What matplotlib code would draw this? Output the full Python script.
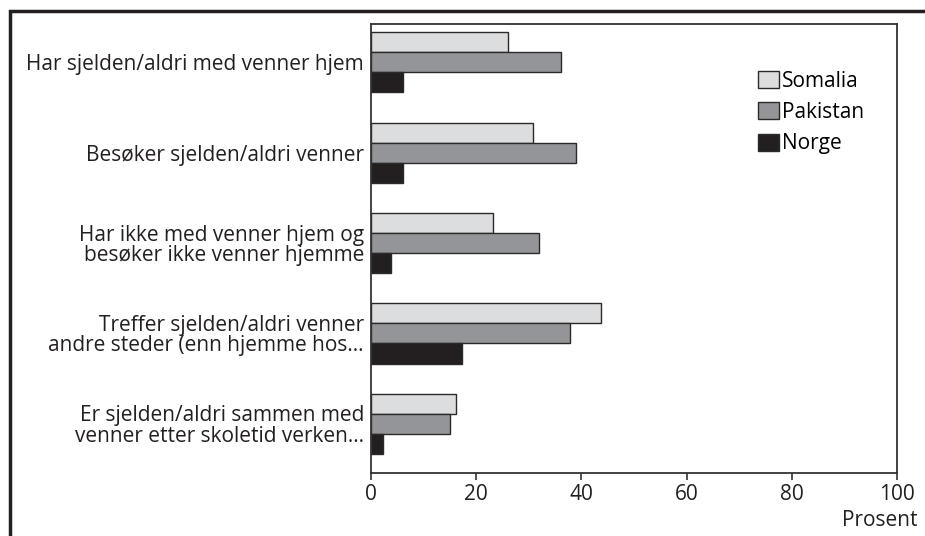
import matplotlib.pyplot as plt
from matplotlib.patches import Rectangle, Patch
import numpy as np

plt.rcParams['font.family'] = ['Open Sans', 'DejaVu Sans']

categories = [
    "Har sjelden/aldri med venner hjem",
    "Besøker sjelden/aldri venner",
    "Har ikke med venner hjem og\nbesøker ikke venner hjemme",
    "Treffer sjelden/aldri venner\nandre steder (enn hjemme hos...",
    "Er sjelden/aldri sammen med\nvenner etter skoletid verken...",
]
series_names = ["Somalia", "Pakistan", "Norge"]
somalia = [26, 30.7, 23.2, 43.7, 16.2]
pakistan = [36.1, 38.9, 31.9, 37.8, 15.0]
norge = [6.0, 6.0, 3.8, 17.3, 2.2]
xticks = [0, 20, 40, 60, 80, 100]

colors = ["#dcdddf", "#949598", "#231f20"]
edge = "#2b2a2a"
fs = 15

fig = plt.figure(figsize=(9.25, 5.36), dpi=100)
ax = fig.add_axes([0.401, 0.1175, 0.569, 0.8375])

y = np.arange(len(categories))
h = 0.222
for k, vals in enumerate([somalia, pakistan, norge]):
    ax.barh(y + (k - 1) * h, vals, height=h, color=colors[k],
            edgecolor=edge, linewidth=1.0, label=series_names[k])

ax.set_xlim(0, 100)
ax.set_ylim(4.544, -0.422)
ax.set_xticks(xticks)
ax.set_xticklabels([str(t) for t in xticks], fontsize=fs, color="#231f20")
ax.set_yticks(y)
ax.set_yticklabels(categories, fontsize=fs, color="#231f20",
                   multialignment="right", linespacing=0.95)
ax.tick_params(axis="y", length=0, pad=5)
ax.tick_params(axis="x", length=5, width=1.2, color="#333333", pad=3)
for s in ax.spines.values():
    s.set_color("#333333")
    s.set_linewidth(1.3)

fig.text(918 / 925, 1 - 520 / 536, "Prosent", ha="right", va="center",
         fontsize=fs, color="#231f20")

handles = [Patch(facecolor=colors[k], edgecolor=edge, linewidth=1.0)
           for k in range(3)]
ax.legend(handles, series_names, loc="upper left",
          bbox_to_anchor=(0.72, 0.915), frameon=False, fontsize=fs,
          handlelength=1.0, handleheight=0.9, handletextpad=0.15,
          labelspacing=0.5, borderaxespad=0)

# outer frame running off the right and bottom edge
fig.patches.append(Rectangle((10 / 925, -0.05), 1.0, 1 - 11 / 536 + 0.05,
                             transform=fig.transFigure, fill=False,
                             edgecolor="#231f20", linewidth=2.5))

fig.savefig("out.png", dpi=100)
